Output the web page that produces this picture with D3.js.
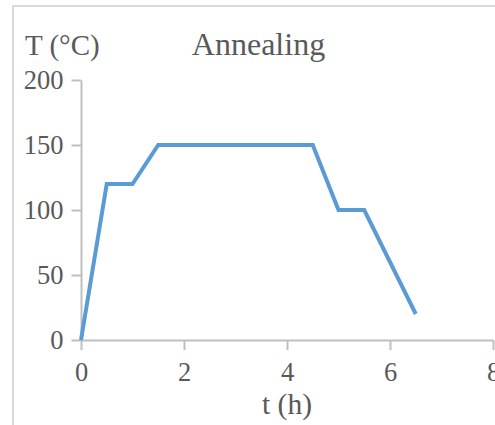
<!DOCTYPE html>
<html lang="en">
<head>
  <meta charset="UTF-8">
  <title>Annealing</title>
  <style>
    body { margin: 0; background: #fff; }
    text { font-family: "Liberation Serif", "Times New Roman", serif; fill: #595959; }
  </style>
</head>
<body>
  <svg id="chart"></svg>

  <script src="https://d3js.org/d3.v7.min.js"></script>
  <script>
    // annealing profile: time (h) vs temperature (°C)
    const times = [0, 0.5, 1, 1.5, 4.5, 5, 5.5, 6.5];
    const temps = [0, 120, 120, 150, 150, 100, 100, 20];
    const xTicks = [0, 2, 4, 6, 8];
    const yTicks = [0, 50, 100, 150, 200];

    const W = 495, H = 425;
    const svg = d3.select("#chart")
      .attr("width", W)
      .attr("height", H);

    // light frame (top + left edge visible)
    svg.append("path")
      .attr("d", `M13,${H} L13,6 L${W},6`)
      .attr("fill", "none")
      .attr("stroke", "#d9d9d9")
      .attr("stroke-width", 2);

    const x = d3.scaleLinear().domain([0, 8]).range([81, 493]);
    const y = d3.scaleLinear().domain([0, 200]).range([340, 80]);

    const axisColor = "#bfbfbf";

    // y axis
    const gy = svg.append("g").attr("transform", "translate(81,0)")
      .call(d3.axisLeft(y).tickValues(yTicks).tickSize(9.5).tickPadding(8).tickSizeOuter(0));
    // x axis
    const gx = svg.append("g").attr("transform", "translate(0,340)")
      .call(d3.axisBottom(x).tickValues(xTicks).tickSize(10).tickPadding(14).tickSizeOuter(0));

    [gx, gy].forEach(g => {
      g.attr("font-size", null).attr("font-family", null);
      g.select(".domain").attr("stroke", axisColor).attr("stroke-width", 2);
      g.selectAll(".tick line").attr("stroke", axisColor).attr("stroke-width", 2);
      g.selectAll(".tick text").attr("fill", "#595959").style("font-size", "26.5px");
    });
    gx.selectAll(".tick text").attr("dy", "0.66em");

    // data line
    const pts = times.map((t, i) => [t, temps[i]]);
    svg.append("path")
      .datum(pts)
      .attr("fill", "none")
      .attr("stroke", "#5b9bd5")
      .attr("stroke-width", 4)
      .attr("stroke-linejoin", "miter")
      .attr("d", d3.line().x(d => x(d[0])).y(d => y(d[1])));

    // titles
    svg.append("text").attr("x", 25).attr("y", 55)
      .style("font-size", "29px").text("T (°C)");
    svg.append("text").attr("x", 258.5).attr("y", 55)
      .attr("text-anchor", "middle").style("font-size", "32px").text("Annealing");
    svg.append("text").attr("x", 287).attr("y", 414)
      .attr("text-anchor", "middle").style("font-size", "29.5px").text("t (h)");
  </script>
</body>
</html>
